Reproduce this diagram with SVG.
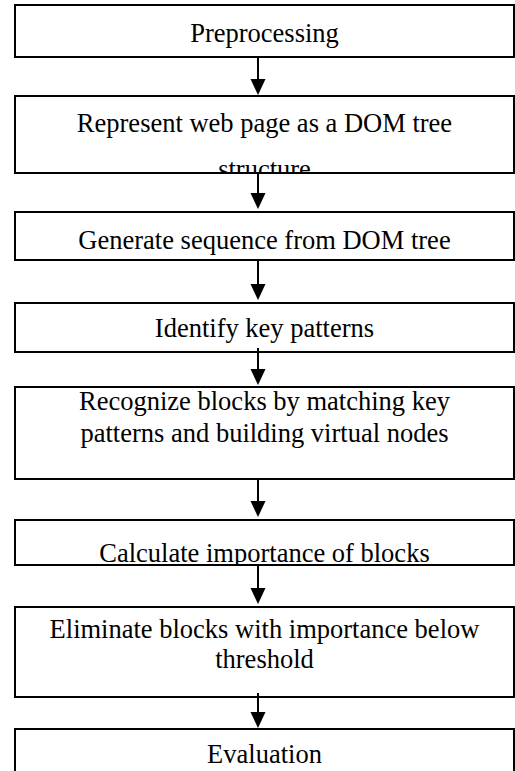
<svg xmlns="http://www.w3.org/2000/svg" width="515" height="771" viewBox="0 0 515 771">
<style>
.box{fill:#fff;stroke:#000;stroke-width:2}
.t{font-family:"Liberation Serif","Times New Roman",serif;font-size:26.5px;fill:#000;text-anchor:middle}
.c{stroke:#000;stroke-width:2;fill:none}
.h{fill:#000}
</style>
<defs>
<clipPath id="clip2"><rect x="15" y="96" width="499" height="76"/></clipPath>
<clipPath id="clip6"><rect x="15" y="520" width="499" height="44"/></clipPath>
</defs>
<rect width="515" height="771" fill="#fff"/>
<g id="n1"><rect class="box" x="15" y="5" width="499" height="52"/><text class="t" x="264.5" y="41.5">Preprocessing</text></g>
<g id="n2"><rect class="box" x="15" y="96" width="499" height="77"/><g clip-path="url(#clip2)"><text class="t" x="264.5" y="132">Represent web page as a DOM tree</text><text class="t" x="264.5" y="178">structure</text></g></g>
<g id="n3"><rect class="box" x="15" y="212" width="499" height="48"/><text class="t" x="264.5" y="249">Generate sequence from DOM tree</text></g>
<g id="n4"><rect class="box" x="15" y="303" width="499" height="49"/><text class="t" x="264.5" y="337">Identify key patterns</text></g>
<g id="n5"><rect class="box" x="15" y="387" width="499" height="92"/><text class="t" x="264.5" y="410">Recognize blocks by matching key</text><text class="t" x="264.5" y="442">patterns and building virtual nodes</text></g>
<g id="n6"><rect class="box" x="15" y="520" width="499" height="45"/><g clip-path="url(#clip6)"><text class="t" x="264.5" y="562">Calculate importance of blocks</text></g></g>
<g id="n7"><rect class="box" x="15" y="607" width="499" height="90"/><text class="t" x="264.5" y="638">Eliminate blocks with importance below</text><text class="t" x="264.5" y="668">threshold</text></g>
<g id="n8"><rect class="box" x="15" y="729" width="499" height="60"/><text class="t" x="264.5" y="763">Evaluation</text></g>
<g id="connectors">
<line class="c" x1="258" y1="57" x2="258" y2="80"/><polygon class="h" points="250.5,79 265.5,79 258,95"/>
<line class="c" x1="258" y1="173" x2="258" y2="194"/><polygon class="h" points="250.5,193 265.5,193 258,209"/>
<line class="c" x1="258" y1="260" x2="258" y2="285"/><polygon class="h" points="250.5,284 265.5,284 258,300"/>
<line class="c" x1="258" y1="348" x2="258" y2="370"/><polygon class="h" points="250.5,369 265.5,369 258,385"/>
<line class="c" x1="258" y1="479" x2="258" y2="502"/><polygon class="h" points="250.5,501 265.5,501 258,517"/>
<line class="c" x1="258" y1="565" x2="258" y2="589"/><polygon class="h" points="250.5,588 265.5,588 258,604"/>
<line class="c" x1="258" y1="693" x2="258" y2="713"/><polygon class="h" points="250.5,712 265.5,712 258,728"/>
</g>
</svg>
